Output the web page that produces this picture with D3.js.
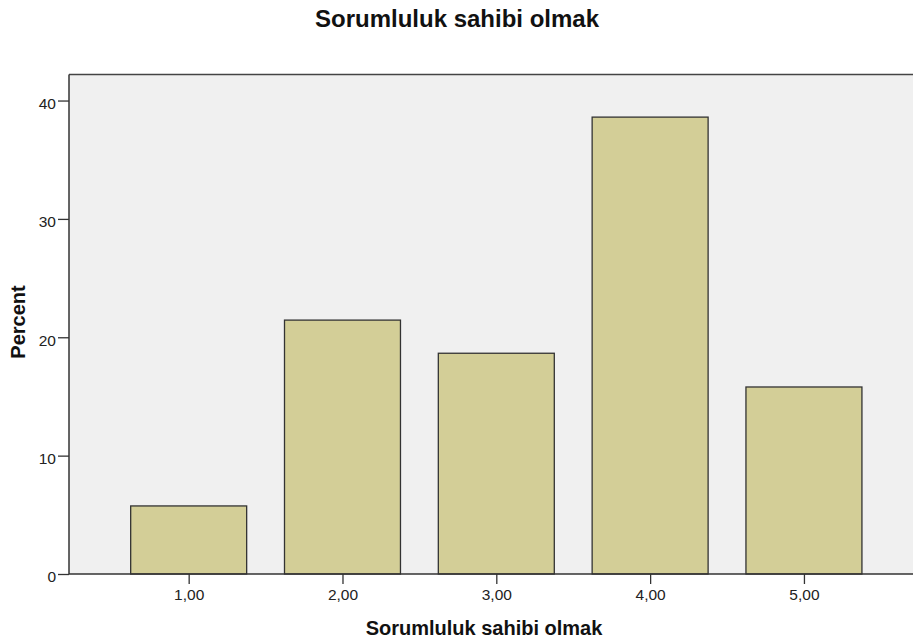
<!DOCTYPE html>
<html><head><meta charset="utf-8">
<script src="https://cdn.jsdelivr.net/npm/d3@7"></script>
<style>body{margin:0;background:#fff}svg{display:block}text{font-family:"Liberation Sans",Arial,sans-serif}</style>
</head><body><svg id="c" width="913" height="642"></svg>
<script>
const categories = [1, 2, 3, 4, 5];
const categoryLabels = ["1,00", "2,00", "3,00", "4,00", "5,00"];
const percents = [5.75, 21.45, 18.65, 38.6, 15.8];
const yTicks = [0, 10, 20, 30, 40];
const title = "Sorumluluk sahibi olmak";
const xTitle = "Sorumluluk sahibi olmak";
const yTitle = "Percent";

const svg = d3.select("#c");
const L = 69, R = 913, T = 74.5, B = 574;
const x = d3.scaleLinear().domain([0.222, 5.709]).range([L, R]);
const y = d3.scaleLinear().domain([0, 42.2]).range([B, T]);
const bw = x(1.754) - x(1);

svg.append("rect").attr("x", L).attr("y", T).attr("width", R - L).attr("height", B - T).attr("fill", "#f0f0f0");
svg.append("line").attr("x1", L).attr("x2", R).attr("y1", T).attr("y2", T).attr("stroke", "#444").attr("stroke-width", 1.5);

svg.selectAll("rect.bar").data(categories).join("rect").attr("class", "bar")
  .attr("x", d => x(d) - bw / 2).attr("width", bw)
  .attr("y", (d, i) => y(percents[i])).attr("height", (d, i) => B - y(percents[i]))
  .attr("fill", "#d3ce97").attr("stroke", "#333").attr("stroke-width", 1.3);

const ya = svg.append("g").attr("transform", `translate(${L},0)`)
  .call(d3.axisLeft(y).tickValues(yTicks).tickSize(11).tickPadding(2).tickFormat(d3.format("d")));
const xa = svg.append("g").attr("transform", `translate(0,${B})`)
  .call(d3.axisBottom(x).tickValues(categories).tickSize(10).tickPadding(5).tickFormat((d, i) => categoryLabels[i]));
[ya, xa].forEach(a => {
  a.select(".domain").attr("stroke", "#333").attr("stroke-width", 1.5);
  a.selectAll(".tick line").attr("stroke", "#333").attr("stroke-width", 1.3);
  a.selectAll(".tick text").attr("fill", "#222").style("font-size", "15.5px").style("font-family", '"Liberation Sans",Arial,sans-serif');
});
ya.selectAll(".tick text").attr("dy", "0.5em");
ya.select(".domain").attr("d", `M0,${B}V${T}`);
xa.select(".domain").attr("d", `M${L},0H${R}`);

svg.append("text").attr("x", 457).attr("y", 27).attr("text-anchor", "middle")
  .style("font-size", "24px").style("font-weight", "bold").attr("fill", "#111").text(title);
svg.append("text").attr("x", 484).attr("y", 635).attr("text-anchor", "middle")
  .style("font-size", "20px").style("font-weight", "bold").attr("fill", "#111").text(xTitle);
svg.append("text").attr("transform", "translate(25,322) rotate(-90)").attr("text-anchor", "middle")
  .style("font-size", "20px").style("font-weight", "bold").attr("fill", "#111").text(yTitle);
</script></body></html>
